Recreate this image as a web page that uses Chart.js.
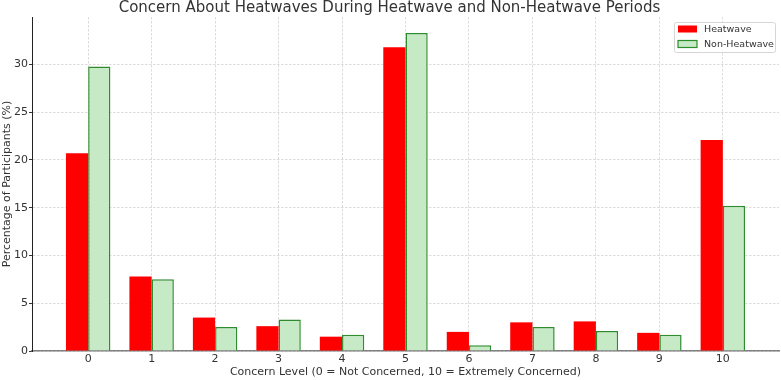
<!DOCTYPE html>
<html>
<head>
<meta charset="utf-8">
<script src="https://cdn.jsdelivr.net/npm/chart.js@4.4.0/dist/chart.umd.min.js"></script>
<style>
  html, body { margin: 0; padding: 0; background: #fff; }
  canvas { display: block; }
</style>
</head>
<body>
<canvas id="chart" width="781" height="380"></canvas>
<script>
// concern level 0..10
const levels = [0, 1, 2, 3, 4, 5, 6, 7, 8, 9, 10];
const heatwave = [20.7, 7.8, 3.5, 2.6, 1.5, 31.8, 2.0, 3.0, 3.1, 1.9, 22.1];
const nonHeatwave = [29.8, 7.5, 2.5, 3.3, 1.7, 33.3, 0.6, 2.5, 2.1, 1.7, 15.2];
const yTicks = [0, 5, 10, 15, 20, 25, 30];

const FONT = "'DejaVu Sans', sans-serif";
const gridColor = "rgba(185,185,185,0.5)";

// legend drawn inside the plot, top right
const legendBox = {
  id: "legendBox",
  afterDraw(chart) {
    const ctx = chart.ctx;
    const x = 674, y = 22, w = 101, h = 30;
    ctx.save();
    ctx.fillStyle = "rgba(255,255,255,0.85)";
    ctx.strokeStyle = "#d6d6d6";
    ctx.lineWidth = 1;
    ctx.beginPath();
    ctx.roundRect(x + 0.5, y + 0.5, w, h, 2);
    ctx.fill();
    ctx.stroke();
    ctx.font = "9.5px " + FONT;
    ctx.textBaseline = "middle";
    chart.data.datasets.forEach((ds, i) => {
      const ry = y + 7 + i * 15;
      ctx.fillStyle = ds.backgroundColor;
      ctx.fillRect(x + 4, ry - 3.5, 19, 7);
      if (ds.borderWidth) {
        ctx.strokeStyle = ds.borderColor;
        ctx.lineWidth = 1.2;
        ctx.strokeRect(x + 4, ry - 3.5, 19, 7);
      }
      ctx.fillStyle = "#333";
      ctx.fillText(ds.label, x + 30, ry + 0.5);
    });
    ctx.restore();
  }
};

new Chart(document.getElementById("chart"), {
  type: "bar",
  data: {
    datasets: [
      {
        label: "Heatwave",
        data: levels.map((l, i) => ({ x: l, y: heatwave[i] })),
        backgroundColor: "#ff0000",
        borderWidth: 0,
      },
      {
        label: "Non-Heatwave",
        data: levels.map((l, i) => ({ x: l, y: nonHeatwave[i] })),
        backgroundColor: "#c6eac6",
        borderColor: "#2e8b2e",
        borderWidth: 1.5,
      },
    ],
  },
  options: {
    responsive: false,
    animation: false,
    devicePixelRatio: 1,
    layout: { padding: { left: 0, right: 2, top: 0, bottom: 0 } },
    categoryPercentage: 0.7,
    barPercentage: 1.0,
    plugins: {
      legend: { display: false },
      tooltip: { enabled: false },
      title: {
        display: true,
        text: "Concern About Heatwaves During Heatwave and Non-Heatwave Periods",
        color: "#333",
        font: { family: FONT, size: 15, weight: "normal", lineHeight: 17 / 15 },
        padding: { top: 0, bottom: 0 },
      },
    },
    scales: {
      x: {
        type: "linear",
        offset: false,
        min: -0.885,
        max: 10.885,
        z: 1,
        ticks: {
          stepSize: 1,
          includeBounds: false,
          color: "#333",
          font: { family: FONT, size: 11 },
          padding: 2,
          maxRotation: 0,
        },
        grid: { offset: false, color: gridColor, lineWidth: 1, drawTicks: false, tickLength: 0 },
        border: { color: "#808080", width: 1.5, dash: [2.5, 1.5] },
        title: {
          display: true,
          text: "Concern Level (0 = Not Concerned, 10 = Extremely Concerned)",
          color: "#333",
          font: { family: FONT, size: 11 },
          padding: { top: 0, bottom: 1 },
        },
        afterFit(scale) { scale.height = 29; },
      },
      y: {
        min: 0,
        max: 34.97,
        z: 1,
        afterBuildTicks(scale) { scale.ticks = yTicks.map((v) => ({ value: v })); },
        ticks: {
          color: "#333",
          font: { family: FONT, size: 11 },
          padding: 1,
        },
        grid: { color: gridColor, lineWidth: 1, tickLength: 3, tickColor: "#333" },
        border: { color: "#222", width: 1, dash: [2.5, 1.5] },
        title: {
          display: true,
          text: "Percentage of Participants (%)",
          color: "#333",
          font: { family: FONT, size: 11 },
          padding: { top: 1, bottom: 0 },
        },
        afterFit(scale) { scale.width = 32; },
      },
    },
  },
  plugins: [legendBox],
});
</script>
</body>
</html>
